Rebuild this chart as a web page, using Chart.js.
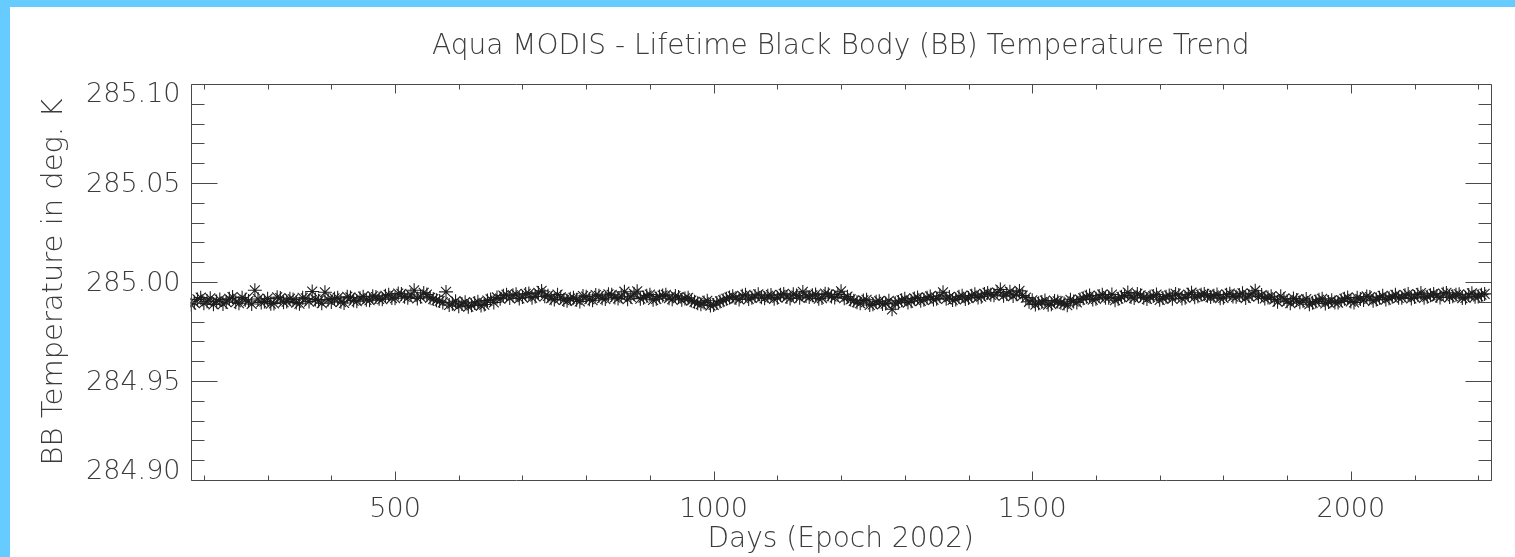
<!DOCTYPE html>
<html><head><meta charset="utf-8">
<script src="https://cdn.jsdelivr.net/npm/chart.js@4.4.1/dist/chart.umd.min.js"></script>
<style>
html,body{margin:0;padding:0;background:#fff;width:1515px;height:557px;overflow:hidden}
#barTop{position:absolute;left:0;top:0;width:1515px;height:7px;background:#66ccff}
#barLeft{position:absolute;left:0;top:0;width:10px;height:557px;background:#66ccff}
#wrap{position:absolute;left:10px;top:7px;width:1505px;height:550px;background:#fff}
canvas{display:block}
</style></head><body>
<div id="barTop"></div><div id="barLeft"></div>
<div id="wrap"><canvas id="c" width="1505" height="550"></canvas></div>
<script>
const chartTitle = 'Aqua MODIS - Lifetime Black Body (BB) Temperature Trend';
const xTitle = 'Days (Epoch 2002)';
const yTitle = 'BB Temperature in deg. K';

// first set of samples
const daysA = [
180,190,200,210,220,230,240,250,260,270,
280,290,300,310,320,330,340,350,360,370,
380,390,400,410,420,430,440,450,460,470,
480,490,500,510,520,530,540,550,560,570,
580,590,600,610,620,630,640,650,660,670,
680,690,700,710,720,730,740,750,760,770,
780,790,800,810,820,830,840,850,860,870,
880,890,900,910,920,930,940,950,960,970,
980,990,1000,1010,1020,1030,1040,1050,1060,1070,
1080,1090,1100,1110,1120,1130,1140,1150,1160,1170,
1180,1190,1200,1210,1220,1230,1240,1250,1260,1270,
1280,1290,1300,1310,1320,1330,1340,1350,1360,1370,
1380,1390,1400,1410,1420,1430,1440,1450,1460,1470,
1480,1490,1500,1510,1520,1530,1540,1550,1560,1570,
1580,1590,1600,1610,1620,1630,1640,1650,1660,1670,
1680,1690,1700,1710,1720,1730,1740,1750,1760,1770,
1780,1790,1800,1810,1820,1830,1840,1850,1860,1870,
1880,1890,1900,1910,1920,1930,1940,1950,1960,1970,
1980,1990,2000,2010,2020,2030,2040,2050,2060,2070,
2080,2090,2100,2110,2120,2130,2140,2150,2160,2170,
2180,2190,2200,2210
];
const tempsA = [
284.9885,284.9912,284.9893,284.9918,284.9902,284.9889,284.9915,284.9898,284.9921,284.9904,
284.9958,284.9897,284.9916,284.9892,284.9919,284.9901,284.9912,284.9890,284.9917,284.9952,
284.9905,284.9948,284.9899,284.9920,284.9894,284.9922,284.9903,284.9926,284.9908,284.9924,
284.9913,284.9935,284.9918,284.9940,284.9921,284.9958,284.9925,284.9937,284.9914,284.9904,
284.9950,284.9890,284.9878,284.9898,284.9882,284.9900,284.9886,284.9912,284.9922,284.9931,
284.9919,284.9938,284.9924,284.9942,284.9927,284.9955,284.9930,284.9911,284.9923,284.9905,
284.9920,284.9902,284.9926,284.9908,284.9930,284.9914,284.9935,284.9917,284.9951,284.9925,
284.9953,284.9921,284.9936,284.9915,284.9932,284.9918,284.9929,284.9910,284.9920,284.9900,
284.9888,284.9905,284.9884,284.9902,284.9915,284.9928,284.9912,284.9935,284.9920,284.9938,
284.9918,284.9934,284.9921,284.9940,284.9917,284.9932,284.9950,284.9924,284.9937,284.9919,
284.9938,284.9922,284.9953,284.9926,284.9905,284.9893,284.9910,284.9887,284.9903,284.9891,
284.9862,284.9899,284.9915,284.9903,284.9922,284.9910,284.9927,284.9916,284.9948,284.9924,
284.9912,284.9930,284.9919,284.9938,284.9926,284.9945,284.9933,284.9962,284.9940,284.9929,
284.9955,284.9921,284.9908,284.9893,284.9906,284.9888,284.9902,284.9891,284.9910,284.9897,
284.9918,284.9932,284.9915,284.9936,284.9921,284.9908,284.9925,284.9947,284.9919,284.9933,
284.9914,284.9929,284.9910,284.9926,284.9915,284.9934,284.9921,284.9946,284.9928,284.9940,
284.9924,284.9937,284.9920,284.9941,284.9925,284.9943,284.9929,284.9956,284.9934,284.9922,
284.9912,284.9928,284.9903,284.9917,284.9898,284.9914,284.9895,284.9910,284.9892,284.9908,
284.9896,284.9915,284.9902,284.9920,284.9909,284.9924,284.9912,284.9930,284.9918,284.9935,
284.9921,284.9939,284.9924,284.9944,284.9926,284.9940,284.9922,284.9945,284.9928,284.9938,
284.9920,284.9943,284.9927,284.9940
];

// second set of samples, between the first ones
const daysB = [
185,195,205,215,225,235,245,255,265,275,
285,295,305,315,325,335,345,355,365,375,
385,395,405,415,425,435,445,455,465,475,
485,495,505,515,525,535,545,555,565,575,
585,595,605,615,625,635,645,655,665,675,
685,695,705,715,725,735,745,755,765,775,
785,795,805,815,825,835,845,855,865,875,
885,895,905,915,925,935,945,955,965,975,
985,995,1005,1015,1025,1035,1045,1055,1065,1075,
1085,1095,1105,1115,1125,1135,1145,1155,1165,1175,
1185,1195,1205,1215,1225,1235,1245,1255,1265,1275,
1285,1295,1305,1315,1325,1335,1345,1355,1365,1375,
1385,1395,1405,1415,1425,1435,1445,1455,1465,1475,
1485,1495,1505,1515,1525,1535,1545,1555,1565,1575,
1585,1595,1605,1615,1625,1635,1645,1655,1665,1675,
1685,1695,1705,1715,1725,1735,1745,1755,1765,1775,
1785,1795,1805,1815,1825,1835,1845,1855,1865,1875,
1885,1895,1905,1915,1925,1935,1945,1955,1965,1975,
1985,1995,2005,2015,2025,2035,2045,2055,2065,2075,
2085,2095,2105,2115,2125,2135,2145,2155,2165,2175,
2185,2195,2205
];
const tempsB = [
284.9896,284.9921,284.9903,284.9887,284.9911,284.9899,284.9924,284.9893,284.9910,284.9889,
284.9914,284.9902,284.9890,284.9923,284.9898,284.9915,284.9896,284.9920,284.9901,284.9912,
284.9893,284.9911,284.9917,284.9900,284.9925,284.9906,284.9918,284.9910,284.9928,284.9915,
284.9930,284.9919,284.9942,284.9926,284.9934,284.9917,284.9945,284.9920,284.9908,284.9897,
284.9884,284.9903,284.9889,284.9875,284.9894,284.9881,284.9906,284.9897,284.9916,284.9935,
284.9933,284.9917,284.9940,284.9921,284.9945,284.9928,284.9918,284.9936,284.9909,284.9916,
284.9910,284.9929,284.9913,284.9934,284.9918,284.9938,284.9922,284.9928,284.9913,284.9940,
284.9916,284.9931,284.9910,284.9927,284.9935,284.9913,284.9924,284.9917,284.9906,284.9893,
284.9897,284.9881,284.9894,284.9908,284.9922,284.9919,284.9930,284.9914,284.9929,284.9923,
284.9930,284.9915,284.9935,284.9924,284.9938,284.9920,284.9929,284.9933,284.9916,284.9941,
284.9927,284.9936,284.9918,284.9912,284.9898,284.9907,284.9884,284.9900,284.9889,284.9905,
284.9893,284.9908,284.9896,284.9917,284.9905,284.9921,284.9911,284.9930,284.9915,284.9909,
284.9925,284.9914,284.9931,284.9922,284.9940,284.9936,284.9947,284.9930,284.9951,284.9938,
284.9932,284.9900,284.9886,284.9899,284.9885,284.9904,284.9895,284.9883,284.9902,284.9911,
284.9925,284.9911,284.9929,284.9920,284.9937,284.9916,284.9932,284.9924,284.9940,284.9921,
284.9925,284.9937,284.9919,284.9932,284.9940,284.9917,284.9936,284.9923,284.9935,284.9930,
284.9931,284.9918,284.9936,284.9927,284.9934,284.9919,284.9940,284.9926,284.9917,284.9928,
284.9900,284.9914,284.9893,284.9909,284.9904,284.9888,284.9901,284.9915,284.9899,284.9897,
284.9908,284.9922,284.9897,284.9914,284.9927,284.9905,284.9921,284.9911,284.9926,284.9920,
284.9933,284.9917,284.9936,284.9920,284.9933,284.9929,284.9941,284.9924,284.9935,284.9919,
284.9934,284.9925,284.9936
];

const xLabelTicks = [500, 1000, 1500, 2000];
const xMinorTicks = [200,300,400,600,700,800,900,1100,1200,1300,1400,1600,1700,1800,1900,2100,2200];
const yLabelTicks = [284.90, 284.95, 285.00, 285.05, 285.10];
const yMinorTicks = [284.91,284.92,284.93,284.94,284.96,284.97,284.98,284.99,285.01,285.02,285.03,285.04,285.06,285.07,285.08,285.09];
const xRange = [179, 2220];
const yRange = [284.90, 285.10];

const textColor = '#3c3c3c';
const axisColor = '#4a4a4a';
const fontFamily = '"DejaVu Sans", sans-serif';
const labelFont = {family: fontFamily, size: 27, weight: '200'};
const titleFont = {family: fontFamily, size: 28, weight: '200'};
const yTitleFont = {family: fontFamily, size: 29, weight: '200'};

const frameTicks = {
  id: 'frameTicks',
  afterDatasetsDraw(chart) {
    const {ctx, chartArea, scales} = chart;
    const L = Math.round(chartArea.left) + 0.5, R = Math.round(chartArea.right) + 0.5;
    const T = Math.round(chartArea.top) + 0.5, B = Math.round(chartArea.bottom) + 0.5;
    ctx.save();
    ctx.strokeStyle = axisColor;
    ctx.lineWidth = 1;
    ctx.beginPath();
    ctx.rect(L, T, R - L, B - T);
    const xt = (vals, len) => vals.forEach(v => {
      const px = Math.round(scales.x.getPixelForValue(v)) + 0.5;
      ctx.moveTo(px, B); ctx.lineTo(px, B - len);
      ctx.moveTo(px, T); ctx.lineTo(px, T + len);
    });
    const yt = (vals, len) => vals.forEach(v => {
      const py = Math.round(scales.y.getPixelForValue(v)) + 0.5;
      ctx.moveTo(L, py); ctx.lineTo(L + len, py);
      ctx.moveTo(R, py); ctx.lineTo(R - len, py);
    });
    xt(xLabelTicks, 9); xt(xMinorTicks, 5);
    yt(yLabelTicks, 26); yt(yMinorTicks, 13);
    ctx.stroke();
    // y tick labels: first one sits inside the top, last one inside the bottom
    ctx.fillStyle = textColor;
    ctx.font = `${labelFont.weight} ${labelFont.size}px ${fontFamily}`;
    ctx.textAlign = 'right';
    ctx.textBaseline = 'middle';
    yLabelTicks.forEach((v, i) => {
      let py = scales.y.getPixelForValue(v) + 2;
      if (i === 0) py -= 10;
      if (i === yLabelTicks.length - 1) py += 9;
      ctx.fillText(v.toFixed(2), L - 11, py);
    });
    ctx.restore();
  }
};

const toPoints = (ds, ts) => ds.map((d, i) => ({x: d, y: ts[i]}));
const markStyle = {
  pointStyle: 'star', pointRadius: 7, pointHoverRadius: 7,
  borderColor: '#1e1e1e', backgroundColor: '#1e1e1e', borderWidth: 1.1
};

new Chart(document.getElementById('c'), {
  type: 'scatter',
  data: {datasets: [
    Object.assign({data: toPoints(daysA, tempsA)}, markStyle),
    Object.assign({data: toPoints(daysB, tempsB)}, markStyle)
  ]},
  options: {
    responsive: false,
    animation: false,
    events: [],
    layout: {padding: {left: 0, right: 24, top: 0, bottom: 0}},
    plugins: {
      legend: {display: false},
      tooltip: {enabled: false},
      title: {display: true, fullSize: false, text: chartTitle, color: textColor, font: titleFont, padding: {top: 23, bottom: 20.4}}
    },
    scales: {
      x: {
        type: 'linear', min: xRange[0], max: xRange[1],
        grid: {display: false, drawTicks: false}, border: {display: false},
        afterBuildTicks: s => { s.ticks = xLabelTicks.map(v => ({value: v})); },
        ticks: {callback: v => String(v), color: textColor, font: labelFont, padding: 14, maxRotation: 0, autoSkip: false},
        title: {display: true, text: xTitle, color: textColor, font: titleFont, padding: {top: 0, bottom: 0}},
        afterFit: s => { s.height = 77; }
      },
      y: {
        type: 'linear', min: yRange[0], max: yRange[1],
        grid: {display: false, drawTicks: false}, border: {display: false},
        afterBuildTicks: s => { s.ticks = yLabelTicks.map(v => ({value: v})); },
        ticks: {display: false},
        title: {display: true, text: yTitle, color: textColor, font: yTitleFont, padding: {top: 27, bottom: 0}},
        afterFit: s => { s.width = 180.5; }
      }
    }
  },
  plugins: [frameTicks]
});
</script></body></html>
